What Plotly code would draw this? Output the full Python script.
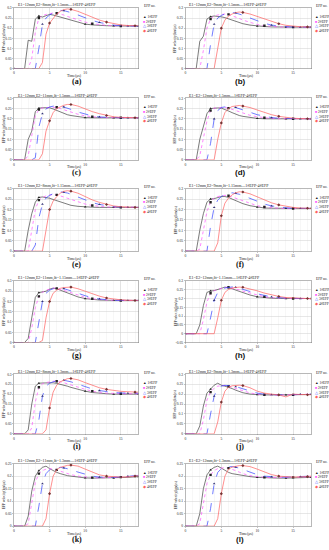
import plotly.graph_objects as go

# ---------------- data ----------------
T = [0, 0.5, 1, 1.5, 2, 2.5, 3, 3.5, 4, 4.5, 5, 5.5, 6, 6.5, 7, 7.5, 8, 9, 10, 11, 12, 13, 14, 15, 16, 17, 17.5]

EFP_NAMES = ["1#EFP", "2#EFP", "3#EFP", "4#EFP"]
PANEL_LABELS = ["(a)", "(b)", "(c)", "(d)", "(e)", "(f)", "(g)", "(h)", "(i)", "(j)", "(k)", "(l)"]
PANEL_TITLES = [
    "E1=12mm,E2=8mm,δt=1.5mm—1#EFP-4#EFP",
    "E1=12mm,E2=9mm,δt=1.5mm—1#EFP-4#EFP",
    "E1=12mm,E2=11mm,δt=1.5mm—1#EFP-4#EFP",
    "E1=E2=12mm,δt=1.5mm—1#EFP-4#EFP",
    "E1=12mm,E2=8mm,δt=1.15mm—1#EFP-4#EFP",
    "E1=12mm,E2=9mm,δt=1.15mm—1#EFP-4#EFP",
    "E1=12mm,E2=11mm,δt=1.15mm—1#EFP-4#EFP",
    "E1=E2=12mm,δt=1.15mm—1#EFP-4#EFP",
    "E1=12mm,E2=8mm,δt=1.3mm—1#EFP-4#EFP",
    "E1=12mm,E2=9mm,δt=1.3mm—1#EFP-4#EFP",
    "E1=12mm,E2=11mm,δt=1.3mm—1#EFP-4#EFP",
    "E1=E2=12mm,δt=1.3mm—1#EFP-4#EFP",
]
Y_MIN = [0, 0, 0, 0, 0, 0, 0, -0.05, 0, 0, 0, 0]
Y_MAX = [0.3, 0.3, 0.3, 0.3, 0.3, 0.3, 0.3, 0.3, 0.3, 0.3, 0.25, 0.25]
Y_TICKS = [-0.05, 0, 0.05, 0.1, 0.15, 0.2, 0.25, 0.3]
Y_TICK_TEXT = ["-0.05", "0", "0.05", "0.1", "0.15", "0.2", "0.25", "0.3"]
X_TICKS = [0, 5, 10, 15]

A1 = [0, 0, 0, 0, 0.14, 0.135, 0.245, 0.26, 0.255, 0.262, 0.268, 0.265, 0.26, 0.255, 0.25, 0.244, 0.238, 0.228, 0.22, 0.216, 0.213, 0.212, 0.211, 0.21, 0.21, 0.21, 0.21]
A2 = [0, 0, 0, 0, 0, 0.05, 0.18, 0.25, 0.262, 0.268, 0.272, 0.275, 0.274, 0.27, 0.265, 0.258, 0.252, 0.24, 0.23, 0.222, 0.217, 0.214, 0.212, 0.211, 0.21, 0.21, 0.21]
A3 = [0, 0, 0, 0, 0, 0, 0, 0.1, 0.22, 0.25, 0.265, 0.275, 0.283, 0.288, 0.287, 0.283, 0.277, 0.265, 0.25, 0.238, 0.228, 0.22, 0.215, 0.212, 0.211, 0.21, 0.21]
A4 = [0, 0, 0, 0, 0, 0, 0, 0, 0.03, 0.17, 0.225, 0.25, 0.27, 0.283, 0.292, 0.295, 0.293, 0.283, 0.268, 0.252, 0.24, 0.23, 0.222, 0.216, 0.213, 0.212, 0.212]

B1 = [0, 0, 0, 0, 0.135, 0.16, 0.245, 0.257, 0.26, 0.259, 0.256, 0.252, 0.246, 0.239, 0.232, 0.226, 0.222, 0.215, 0.21, 0.208, 0.206, 0.205, 0.205, 0.205, 0.205, 0.205, 0.205]
B2 = [0, 0, 0, 0, 0, 0.09, 0.2, 0.245, 0.26, 0.265, 0.268, 0.27, 0.268, 0.262, 0.255, 0.248, 0.24, 0.228, 0.218, 0.212, 0.208, 0.206, 0.205, 0.205, 0.205, 0.205, 0.205]
B3 = [0, 0, 0, 0, 0, 0, 0, 0.12, 0.22, 0.25, 0.263, 0.27, 0.275, 0.277, 0.275, 0.27, 0.264, 0.25, 0.235, 0.224, 0.215, 0.21, 0.207, 0.206, 0.205, 0.205, 0.205]
B4 = [0, 0, 0, 0, 0, 0, 0, 0, 0, 0.1, 0.2, 0.24, 0.26, 0.27, 0.277, 0.28, 0.278, 0.27, 0.258, 0.244, 0.232, 0.222, 0.214, 0.209, 0.207, 0.206, 0.206]

C1 = [0, 0, 0, 0, 0.1, 0.14, 0.235, 0.252, 0.254, 0.255, 0.254, 0.248, 0.24, 0.232, 0.225, 0.22, 0.216, 0.21, 0.206, 0.205, 0.205, 0.205, 0.205, 0.205, 0.205, 0.205, 0.205]
C2 = [0, 0, 0, 0, 0.02, 0.12, 0.215, 0.245, 0.253, 0.255, 0.256, 0.258, 0.256, 0.25, 0.244, 0.238, 0.232, 0.222, 0.214, 0.21, 0.207, 0.206, 0.205, 0.205, 0.205, 0.205, 0.205]
C3 = [0, 0, 0, 0, 0, 0, 0.01, 0.16, 0.225, 0.248, 0.258, 0.263, 0.265, 0.263, 0.258, 0.252, 0.246, 0.233, 0.222, 0.214, 0.209, 0.207, 0.206, 0.205, 0.205, 0.205, 0.205]
C4 = [0, 0, 0, 0, 0, 0, 0, 0, 0.03, 0.14, 0.19, 0.23, 0.25, 0.26, 0.266, 0.27, 0.27, 0.262, 0.248, 0.235, 0.225, 0.216, 0.21, 0.207, 0.206, 0.205, 0.205]

D1 = [0, 0, 0, 0, 0.1, 0.16, 0.225, 0.25, 0.253, 0.253, 0.252, 0.246, 0.238, 0.23, 0.222, 0.216, 0.212, 0.206, 0.202, 0.2, 0.2, 0.2, 0.2, 0.2, 0.2, 0.2, 0.2]
D2 = [0, 0, 0, 0, 0.02, 0.11, 0.19, 0.24, 0.252, 0.254, 0.255, 0.255, 0.252, 0.246, 0.24, 0.233, 0.227, 0.217, 0.21, 0.205, 0.202, 0.201, 0.2, 0.2, 0.2, 0.2, 0.2]
D3 = [0, 0, 0, 0, 0, 0, 0, 0.08, 0.2, 0.24, 0.255, 0.258, 0.26, 0.259, 0.255, 0.25, 0.244, 0.232, 0.22, 0.212, 0.206, 0.203, 0.201, 0.2, 0.2, 0.2, 0.2]
D4 = [0, 0, 0, 0, 0, 0, 0, 0, 0, 0.1, 0.18, 0.23, 0.25, 0.26, 0.264, 0.265, 0.262, 0.255, 0.243, 0.23, 0.22, 0.212, 0.206, 0.203, 0.201, 0.2, 0.2]

E1 = [0, 0, 0, 0, 0.1, 0.18, 0.235, 0.258, 0.26, 0.258, 0.254, 0.248, 0.242, 0.236, 0.23, 0.225, 0.22, 0.215, 0.212, 0.211, 0.21, 0.21, 0.21, 0.21, 0.21, 0.21, 0.21]
E2 = [0, 0, 0, 0, 0, 0.1, 0.2, 0.245, 0.258, 0.265, 0.27, 0.272, 0.27, 0.266, 0.26, 0.254, 0.248, 0.236, 0.226, 0.219, 0.215, 0.212, 0.211, 0.21, 0.21, 0.21, 0.21]
E3 = [0, 0, 0, 0, 0, 0, 0.03, 0.16, 0.225, 0.255, 0.268, 0.276, 0.283, 0.285, 0.283, 0.279, 0.273, 0.26, 0.245, 0.233, 0.224, 0.218, 0.214, 0.212, 0.211, 0.21, 0.21]
E4 = [0, 0, 0, 0, 0, 0, 0, 0, 0, 0.1, 0.2, 0.24, 0.262, 0.278, 0.287, 0.29, 0.288, 0.278, 0.262, 0.246, 0.234, 0.224, 0.217, 0.213, 0.211, 0.21, 0.21]

F1 = [0, 0, 0, 0, 0.1, 0.18, 0.235, 0.25, 0.252, 0.258, 0.262, 0.262, 0.258, 0.25, 0.242, 0.235, 0.228, 0.218, 0.211, 0.207, 0.206, 0.205, 0.205, 0.205, 0.205, 0.205, 0.205]
F2 = [0, 0, 0, 0, 0.01, 0.1, 0.19, 0.235, 0.255, 0.262, 0.266, 0.268, 0.266, 0.26, 0.254, 0.247, 0.24, 0.228, 0.218, 0.212, 0.208, 0.206, 0.205, 0.205, 0.205, 0.205, 0.205]
F3 = [0, 0, 0, 0, 0, 0, 0, 0.12, 0.21, 0.245, 0.262, 0.272, 0.278, 0.28, 0.278, 0.273, 0.267, 0.253, 0.238, 0.226, 0.217, 0.211, 0.208, 0.206, 0.205, 0.205, 0.205]
F4 = [0, 0, 0, 0, 0, 0, 0, 0, 0, 0.04, 0.17, 0.23, 0.255, 0.27, 0.28, 0.285, 0.284, 0.275, 0.26, 0.245, 0.232, 0.222, 0.215, 0.21, 0.207, 0.206, 0.205]

G1 = [0, 0, 0, 0, 0.02, 0.12, 0.22, 0.243, 0.245, 0.25, 0.26, 0.265, 0.262, 0.255, 0.248, 0.24, 0.233, 0.222, 0.214, 0.209, 0.207, 0.206, 0.205, 0.205, 0.205, 0.205, 0.205]
G2 = [0, 0, 0, 0, 0, 0.07, 0.17, 0.225, 0.245, 0.255, 0.26, 0.265, 0.264, 0.26, 0.255, 0.249, 0.243, 0.23, 0.22, 0.213, 0.209, 0.207, 0.206, 0.205, 0.205, 0.205, 0.205]
G3 = [0, 0, 0, 0, 0, 0, 0, 0.1, 0.2, 0.24, 0.255, 0.262, 0.265, 0.265, 0.263, 0.258, 0.252, 0.24, 0.228, 0.218, 0.212, 0.208, 0.206, 0.205, 0.205, 0.205, 0.205]
G4 = [0, 0, 0, 0, 0, 0, 0, 0, 0.01, 0.12, 0.2, 0.24, 0.255, 0.264, 0.268, 0.27, 0.27, 0.262, 0.25, 0.237, 0.226, 0.217, 0.211, 0.208, 0.206, 0.205, 0.205]

H1 = [0, 0, 0, 0, 0.05, 0.16, 0.235, 0.243, 0.245, 0.25, 0.258, 0.265, 0.262, 0.256, 0.248, 0.24, 0.232, 0.22, 0.21, 0.205, 0.202, 0.201, 0.2, 0.2, 0.2, 0.2, 0.2]
H2 = [0, 0, 0, 0, 0, 0.08, 0.18, 0.23, 0.245, 0.252, 0.258, 0.263, 0.264, 0.26, 0.255, 0.249, 0.242, 0.23, 0.218, 0.21, 0.205, 0.202, 0.201, 0.2, 0.2, 0.2, 0.2]
H3 = [0, 0, 0, 0, 0, 0, 0, 0.09, 0.19, 0.235, 0.252, 0.26, 0.265, 0.266, 0.264, 0.259, 0.253, 0.24, 0.227, 0.216, 0.209, 0.205, 0.202, 0.201, 0.2, 0.2, 0.2]
H4 = [0, 0, 0, 0, 0, 0, 0, 0, 0, 0.09, 0.19, 0.235, 0.252, 0.26, 0.264, 0.265, 0.264, 0.256, 0.244, 0.231, 0.22, 0.212, 0.206, 0.203, 0.201, 0.2, 0.2]

I1 = [0, 0, 0, 0, 0.02, 0.15, 0.24, 0.255, 0.256, 0.257, 0.258, 0.257, 0.254, 0.25, 0.245, 0.24, 0.234, 0.224, 0.215, 0.208, 0.204, 0.202, 0.2, 0.2, 0.2, 0.2, 0.2]
I2 = [0, 0, 0, 0, 0, 0.03, 0.16, 0.235, 0.252, 0.258, 0.262, 0.265, 0.265, 0.262, 0.258, 0.252, 0.246, 0.235, 0.224, 0.215, 0.208, 0.205, 0.203, 0.202, 0.202, 0.202, 0.202]
I3 = [0, 0, 0, 0, 0, 0, 0, 0.07, 0.19, 0.24, 0.255, 0.262, 0.267, 0.27, 0.27, 0.267, 0.262, 0.25, 0.237, 0.226, 0.218, 0.212, 0.208, 0.206, 0.205, 0.205, 0.205]
I4 = [0, 0, 0, 0, 0, 0, 0, 0, 0, 0.02, 0.13, 0.21, 0.245, 0.262, 0.272, 0.278, 0.279, 0.272, 0.258, 0.243, 0.232, 0.224, 0.218, 0.214, 0.212, 0.21, 0.21]

J1 = [0, 0, 0, 0, 0.04, 0.14, 0.205, 0.225, 0.245, 0.255, 0.245, 0.24, 0.235, 0.228, 0.22, 0.213, 0.207, 0.2, 0.197, 0.196, 0.196, 0.196, 0.196, 0.196, 0.196, 0.197, 0.198]
J2 = [0, 0, 0, 0, 0, 0.07, 0.17, 0.21, 0.23, 0.24, 0.243, 0.244, 0.24, 0.235, 0.228, 0.222, 0.216, 0.206, 0.2, 0.197, 0.196, 0.195, 0.195, 0.196, 0.198, 0.2, 0.2]
J3 = [0, 0, 0, 0, 0, 0, 0, 0.1, 0.19, 0.23, 0.24, 0.244, 0.244, 0.242, 0.238, 0.232, 0.226, 0.214, 0.205, 0.2, 0.197, 0.196, 0.196, 0.197, 0.199, 0.2, 0.2]
J4 = [0, 0, 0, 0, 0, 0, 0, 0, 0, 0.06, 0.16, 0.215, 0.235, 0.242, 0.245, 0.245, 0.243, 0.232, 0.215, 0.205, 0.2, 0.196, 0.186, 0.2, 0.198, 0.197, 0.197]

K1 = [0, 0, 0, 0, 0.04, 0.14, 0.2, 0.222, 0.235, 0.24, 0.23, 0.222, 0.215, 0.21, 0.205, 0.202, 0.2, 0.196, 0.193, 0.192, 0.192, 0.192, 0.192, 0.193, 0.195, 0.197, 0.198]
K2 = [0, 0, 0, 0, 0.01, 0.09, 0.175, 0.21, 0.222, 0.228, 0.23, 0.228, 0.225, 0.22, 0.215, 0.21, 0.206, 0.2, 0.196, 0.194, 0.193, 0.193, 0.194, 0.196, 0.198, 0.2, 0.2]
K3 = [0, 0, 0, 0, 0, 0, 0, 0.08, 0.17, 0.21, 0.225, 0.232, 0.235, 0.235, 0.233, 0.23, 0.226, 0.216, 0.207, 0.2, 0.196, 0.194, 0.195, 0.197, 0.2, 0.202, 0.203]
K4 = [0, 0, 0, 0, 0, 0, 0, 0, 0, 0.03, 0.13, 0.2, 0.225, 0.235, 0.24, 0.243, 0.244, 0.24, 0.228, 0.215, 0.205, 0.2, 0.197, 0.196, 0.197, 0.2, 0.202]

L1 = [0, 0, 0, 0, 0.05, 0.15, 0.205, 0.225, 0.235, 0.24, 0.232, 0.222, 0.215, 0.21, 0.207, 0.204, 0.202, 0.198, 0.195, 0.193, 0.192, 0.192, 0.192, 0.192, 0.193, 0.194, 0.195]
L2 = [0, 0, 0, 0, 0.01, 0.09, 0.17, 0.205, 0.222, 0.23, 0.233, 0.234, 0.232, 0.228, 0.222, 0.216, 0.21, 0.202, 0.197, 0.195, 0.194, 0.194, 0.194, 0.195, 0.196, 0.197, 0.198]
L3 = [0, 0, 0, 0, 0, 0, 0, 0.07, 0.17, 0.215, 0.23, 0.236, 0.238, 0.238, 0.236, 0.232, 0.227, 0.216, 0.206, 0.2, 0.197, 0.196, 0.196, 0.197, 0.198, 0.199, 0.2]
L4 = [0, 0, 0, 0, 0, 0, 0, 0, 0, 0.03, 0.13, 0.2, 0.228, 0.236, 0.24, 0.242, 0.242, 0.238, 0.228, 0.216, 0.206, 0.2, 0.197, 0.196, 0.197, 0.198, 0.2]

# sample indices at which symbols are drawn on each curve
MARK_IDX = [[0, 7, 18, 22, 26], [7, 12, 19, 23], [8, 14, 20, 24], [10, 16, 21, 25]]

PANELS = [
    (A1, A2, A3, A4), (B1, B2, B3, B4), (C1, C2, C3, C4), (D1, D2, D3, D4),
    (E1, E2, E3, E4), (F1, F2, F3, F4), (G1, G2, G3, G4), (H1, H2, H3, H4),
    (I1, I2, I3, I4), (J1, J2, J3, J4), (K1, K2, K3, K4), (L1, L2, L3, L4),
]

# ---------------- styling ----------------
W, H = 329, 550
COL_X = [(13, 138), (185, 311)]
ROW_Y = [(6, 67), (97, 159), (188, 251), (281, 343), (375, 435), (465, 528)]
LINE_COLORS = ["#444444", "#ff55ff", "#3344ff", "#ff6060"]
LINE_DASH = ["solid", "dot", "dash", "solid"]
MARK_SYMBOL = ["triangle-up", "square", "triangle-up", "diamond"]
MARK_COLOR = ["#222222", "#222222", "#333377", "#773333"]
LEG_GLYPH = ["▲", "■", "△", "◆"]
SERIF = "Liberation Serif, Times New Roman, serif"
SANS = "Liberation Sans, Arial, sans-serif"
LABEL_SANS = {"(b)", "(d)", "(h)", "(l)"}


def fx(p):
    return p / W


def fy(p):
    return 1 - p / H


fig = go.Figure()
layout = dict(
    width=W, height=H, margin=dict(l=0, r=0, t=0, b=0),
    paper_bgcolor="white", plot_bgcolor="white", showlegend=False,
    annotations=[],
)
ann = layout["annotations"]

for k, series in enumerate(PANELS):
    row, col = divmod(k, 2)
    x0, x1 = COL_X[col]
    y0, y1 = ROW_Y[row]
    sfx = "" if k == 0 else str(k + 1)
    xa, ya = "x" + sfx, "y" + sfx

    for s, vals in enumerate(series):
        fig.add_trace(go.Scatter(
            x=T, y=vals, mode="lines", xaxis=xa, yaxis=ya,
            line=dict(color=LINE_COLORS[s], width=0.7, dash=LINE_DASH[s]),
            hoverinfo="skip",
        ))
        idx = MARK_IDX[s]
        fig.add_trace(go.Scatter(
            x=[T[j] for j in idx], y=[vals[j] for j in idx], mode="markers",
            xaxis=xa, yaxis=ya,
            marker=dict(symbol=MARK_SYMBOL[s], size=2.4, color=MARK_COLOR[s]),
            hoverinfo="skip",
        ))

    yticks = [v for v in Y_TICKS if Y_MIN[k] - 1e-9 <= v <= Y_MAX[k] + 1e-9]
    ytext = [Y_TICK_TEXT[Y_TICKS.index(v)] for v in yticks]
    layout["xaxis" + sfx] = dict(
        domain=[fx(x0), fx(x1)], anchor=ya, range=[0, 17.5],
        tickvals=X_TICKS, ticktext=[str(v) for v in X_TICKS],
        tickfont=dict(size=3.6, family=SERIF, color="#222"),
        ticks="outside", ticklen=1, tickcolor="#888", tickwidth=0.5,
        showgrid=True, gridcolor="#cfcfcf", gridwidth=0.5,
        minor=dict(dtick=1, showgrid=True, gridcolor="#ececec", gridwidth=0.4),
        showline=True, linecolor="#888", linewidth=0.6, mirror=True,
        zeroline=False, fixedrange=True,
    )
    layout["yaxis" + sfx] = dict(
        domain=[fy(y1), fy(y0)], anchor=xa, range=[Y_MIN[k], Y_MAX[k]],
        tickvals=yticks, ticktext=ytext,
        tickfont=dict(size=3.6, family=SERIF, color="#222"),
        ticks="outside", ticklen=1, tickcolor="#888", tickwidth=0.5,
        showgrid=True, gridcolor="#cfcfcf", gridwidth=0.5,
        showline=True, linecolor="#888", linewidth=0.6, mirror=True,
        zeroline=False, fixedrange=True,
    )

    # panel title
    ann.append(dict(x=fx(x0 + 2), y=fy(y0 - 2.5), xref="paper", yref="paper",
                    xanchor="left", yanchor="middle", showarrow=False,
                    text=PANEL_TITLES[k], font=dict(size=4, family=SERIF, color="#222")))
    # x title
    ann.append(dict(x=fx((x0 + x1) / 2 - 2), y=fy(y1 + 7.5), xref="paper", yref="paper",
                    xanchor="center", yanchor="middle", showarrow=False,
                    text="Time(μs)", font=dict(size=3.8, family=SERIF, color="#222")))
    # y title
    ann.append(dict(x=fx(x0 - 10), y=fy((y0 + y1) / 2), xref="paper", yref="paper",
                    xanchor="center", yanchor="middle", showarrow=False, textangle=-90,
                    text="EFP velocity(km/μs)", font=dict(size=3.4, family=SERIF, color="#222")))
    # legend title
    ann.append(dict(x=fx(x1 + 3), y=fy(y0 - 1.5), xref="paper", yref="paper",
                    xanchor="left", yanchor="middle", showarrow=False,
                    text="EFP no.", font=dict(size=3.6, family=SERIF, color="#222")))
    for s, name in enumerate(EFP_NAMES):
        ann.append(dict(x=fx(x1 + 2), y=fy(y0 + 9 + 4.7 * s), xref="paper", yref="paper",
                        xanchor="left", yanchor="middle", showarrow=False,
                        text=f'<span style="color:{LINE_COLORS[s] if s else "#222"}">{LEG_GLYPH[s]}</span> {name}',
                        font=dict(size=3.6, family=SERIF, color="#222")))
    # panel label
    lab = PANEL_LABELS[k]
    cx = 76 if col == 0 else 240
    ann.append(dict(x=fx(cx), y=fy(y1 + 13), xref="paper", yref="paper",
                    xanchor="center", yanchor="middle", showarrow=False,
                    text=f"<b>{lab}</b>",
                    font=dict(size=8, family=SANS if lab in LABEL_SANS else SERIF, color="#111")))

fig.update_layout(**layout)
fig.write_html(
    "out.html",
    config={"displayModeBar": False, "staticPlot": True},
    post_script="document.body.style.margin='0';document.body.style.padding='0';",
)
